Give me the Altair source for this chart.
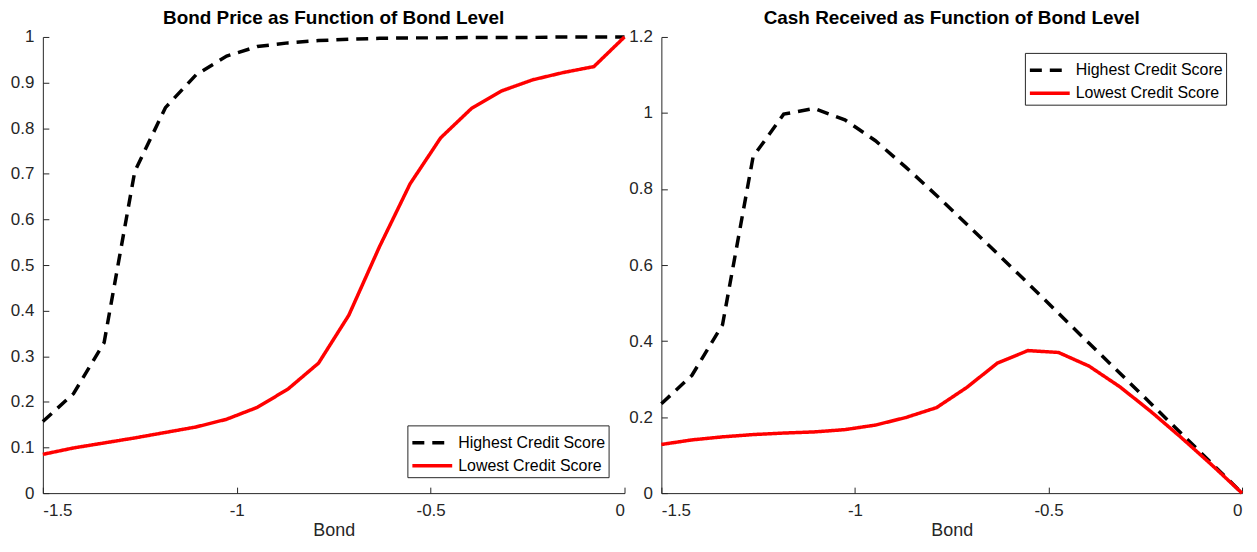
import altair as alt
import pandas as pd

# ---- data ----
bond = [-1.5, -1.421, -1.342, -1.263, -1.184, -1.105, -1.026, -0.947, -0.868, -0.789,
        -0.711, -0.632, -0.553, -0.474, -0.395, -0.316, -0.237, -0.158, -0.079, 0.0]

price_high = [0.157, 0.218, 0.33, 0.705, 0.845, 0.917, 0.958, 0.979, 0.987, 0.992,
              0.995, 0.997, 0.998, 0.998, 0.999, 0.999, 0.999, 1.0, 1.0, 1.0]
price_low = [0.085, 0.099, 0.11, 0.121, 0.133, 0.145, 0.162, 0.188, 0.228, 0.285,
             0.39, 0.54, 0.678, 0.779, 0.843, 0.882, 0.906, 0.922, 0.935, 1.0]

cash_high = [0.235, 0.31, 0.443, 0.885, 0.997, 1.012, 0.982, 0.927, 0.857, 0.783,
             0.707, 0.63, 0.552, 0.473, 0.394, 0.316, 0.237, 0.158, 0.079, 0.0]
cash_low = [0.128, 0.14, 0.148, 0.154, 0.158, 0.161, 0.167, 0.179, 0.199, 0.225,
            0.278, 0.342, 0.375, 0.37, 0.334, 0.28, 0.216, 0.147, 0.075, 0.0]

series_names = ["Highest Credit Score", "Lowest Credit Score"]
series_colors = ["#000000", "#ff0000"]
x_ticks = [-1.5, -1, -0.5, 0]
y_ticks_left = [0, 0.1, 0.2, 0.3, 0.4, 0.5, 0.6, 0.7, 0.8, 0.9, 1]
y_ticks_right = [0, 0.2, 0.4, 0.6, 0.8, 1, 1.2]

FONT = "Liberation Sans"
AXIS_COLOR = "#262626"
PLOT_H = 458


def long_df(high, low):
    rows = []
    for b, v in zip(bond, high):
        rows.append({"Bond": b, "Value": v, "Series": series_names[0]})
    for b, v in zip(bond, low):
        rows.append({"Bond": b, "Value": v, "Series": series_names[1]})
    return pd.DataFrame(rows)


def panel(df, title, ymax, yticks, orient, width, legend_offset):
    leg = alt.Legend(
        title=None, orient=orient, offset=legend_offset,
        labelFontSize=16, labelFont=FONT, labelColor="#000000", labelLimit=400,
        symbolType="M-1,0H2.2", symbolSize=625, symbolStrokeWidth=3.5,
        symbolFillColor="transparent",
        strokeColor=AXIS_COLOR, fillColor="#ffffff", padding=3, rowPadding=0,
        labelOffset=19, cornerRadius=0,
    )
    xscale = alt.Scale(domain=[-1.5, 0], nice=False, zero=False)
    yscale = alt.Scale(domain=[0, ymax], nice=False)
    label_axis = dict(
        grid=False, domainColor=AXIS_COLOR, labelColor=AXIS_COLOR, titleColor=AXIS_COLOR,
        labelFont=FONT, titleFont=FONT, labelFontSize=17, titleFontSize=18,
        titleFontWeight="normal", ticks=False, tickSize=0, labelPadding=9,
        domainWidth=1, labelExpr="datum.value + ''",
    )
    tick_axis = dict(
        grid=False, domain=False, labels=False, ticks=True, tickSize=6, offset=-6,
        tickColor=AXIS_COLOR, tickWidth=1, title=None,
    )
    lines = alt.Chart(df).mark_line(strokeWidth=3.5).encode(
        x=alt.X("Bond:Q", scale=xscale,
                axis=alt.Axis(values=x_ticks, title="Bond", titlePadding=4,
                              orient="bottom", **label_axis)),
        y=alt.Y("Value:Q", scale=yscale,
                axis=alt.Axis(values=yticks, title=None, orient="left", **label_axis)),
        color=alt.Color("Series:N", scale=alt.Scale(domain=series_names, range=series_colors),
                        legend=leg),
        strokeDash=alt.StrokeDash("Series:N",
                                  scale=alt.Scale(domain=series_names, range=[[12, 8], [1, 0]]),
                                  legend=leg),
        order=alt.Order("Bond:Q"),
    )
    ticks = alt.Chart(df).mark_line(strokeOpacity=0).encode(
        x=alt.X("Bond:Q", scale=xscale,
                axis=alt.Axis(values=x_ticks, orient="bottom", **tick_axis)),
        y=alt.Y("Value:Q", scale=yscale,
                axis=alt.Axis(values=yticks, orient="left", **tick_axis)),
        detail="Series:N",
    )
    return alt.layer(lines, ticks).resolve_axis(x="independent", y="independent").properties(
        width=width, height=PLOT_H,
        title=alt.TitleParams(title, fontSize=19, fontWeight="bold", font=FONT,
                              color="#000000", offset=0, anchor="middle", frame="group"),
    )


left = panel(long_df(price_high, price_low), "Bond Price as Function of Bond Level",
             1, y_ticks_left, "bottom-right", 584, 16)
right = panel(long_df(cash_high, cash_low), "Cash Received as Function of Bond Level",
              1.2, y_ticks_right, "top-right", 583, 16)

chart = alt.hconcat(left, right, spacing=-3).resolve_scale(
    color="independent", strokeDash="independent"
).resolve_legend(
    color="independent", strokeDash="independent"
).configure(
    font=FONT,
    padding={"left": 2, "top": 0, "right": 0, "bottom": 0},
).configure_view(
    stroke=None
)

chart.save("out.html", embed_options={"renderer": "svg", "actions": False})
